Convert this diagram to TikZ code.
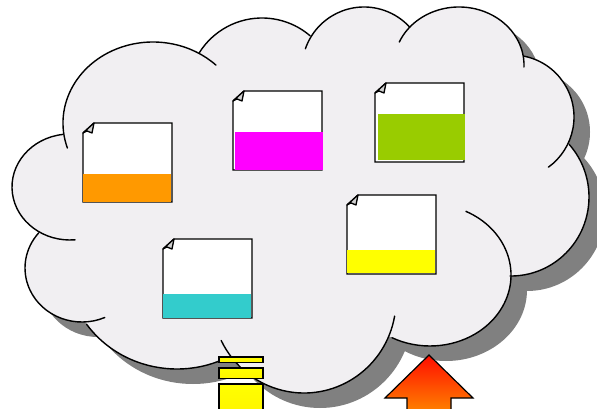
\documentclass[tikz,border=0pt]{standalone}
\definecolor{cloudfill}{HTML}{F1EFF2}
\definecolor{cloudshadow}{HTML}{808080}
\definecolor{foldgray}{HTML}{D0D0D0}
\definecolor{bandorange}{HTML}{FF9900}
\definecolor{bandmagenta}{HTML}{FF00FF}
\definecolor{bandgreen}{HTML}{99CC00}
\definecolor{bandyellow}{HTML}{FFFF00}
\definecolor{bandteal}{HTML}{33CCCC}
\tikzset{
  outline/.style={draw=black,line width=1.4pt,line cap=round,line join=round},
  docsheet/.style={draw=black,fill=white,line width=1.35pt,line join=miter},
  docfold/.style={draw=black,fill=foldgray,line width=1.3pt,line join=round},
  stackbar/.style={draw=black,line width=1.5pt,top color=bandyellow,bottom color=bandyellow!92!orange},
  uparrow/.style={draw=black,line width=1.2pt,line join=miter,top color=red!90!orange,bottom color=orange!85!yellow}
}
% one lobe outline: centre x, y, radii x, y, start and end angle
\newcommand{\lobe}[6]{\draw[outline] (#1,#2) ++(#5:#3pt and #4pt) arc[start angle=#5,end angle=#6,x radius=#3pt,y radius=#4pt];}
% the silhouette: full ellipses of all lobes and the polygon through their centres
\newcommand{\cloudbody}[1]{%
  \fill[#1] (153,123) ellipse[x radius=90pt,y radius=81pt];
  \fill[#1] (262,92) circle[radius=74pt];
  \fill[#1] (364,69) circle[radius=62pt];
  \fill[#1] (459,65) ellipse[x radius=65pt,y radius=58pt];
  \fill[#1] (512,117) circle[radius=62pt];
  \fill[#1] (511,197) ellipse[x radius=78pt,y radius=79pt];
  \fill[#1] (430,275) ellipse[x radius=81pt,y radius=71pt];
  \fill[#1] (304,300) ellipse[x radius=92pt,y radius=93pt];
  \fill[#1] (177,265) ellipse[x radius=110pt,y radius=104pt];
  \fill[#1] (82,268) ellipse[x radius=57pt,y radius=54pt];
  \fill[#1] (70,187) ellipse[x radius=58pt,y radius=53pt];
  \fill[#1] (153,123) -- (262,92) -- (364,69) -- (459,65) -- (512,117) -- (511,197) -- (430,275) -- (304,300) -- (177,265) -- (82,268) -- (70,187) -- cycle;
}
% sheet: left x, top y, band colour, band left, band top, band right, band bottom
\newcommand{\sheet}[7]{%
  \draw[docsheet] (#1,#2+10) -- (#1+11,#2) -- (#1+89,#2) -- (#1+89,#2+79) -- (#1,#2+79) -- cycle;
  \fill[#3] (#4,#5) rectangle (#6,#7);
  \draw[docfold] (#1,#2+10) -- (#1+11,#2) -- (#1+9,#2+10) -- (#1+4,#2+8) -- cycle;
}
\begin{document}
\begin{tikzpicture}[x=1pt,y=-1pt]
\useasboundingbox (0,0) rectangle (597,409);
\clip (0,0) rectangle (597,409);
\begin{scope}[shift={(16,15)}]
  \cloudbody{cloudshadow}
\end{scope}
\cloudbody{cloudfill}
\lobe{153}{123}{90}{81}{198}{45.6}
\lobe{262}{92}{74}{74}{148.2}{49.4}
\lobe{364}{69}{62}{62}{161}{42.4}
\lobe{459}{65}{65}{58}{156.7}{-2}
\lobe{512}{117}{62}{62}{78.9}{-54}
\lobe{511}{197}{78}{79}{41.9}{-90.7}
\lobe{430}{275}{81}{71}{63.7}{-118}
\lobe{304}{300}{92}{93}{-10}{-154.2}
\lobe{177}{265}{110}{104}{214.7}{293.7}
\lobe{82}{268}{57}{54}{-66.4}{-220.5}
\lobe{70}{187}{58}{53}{97}{275}
\sheet{83}{123}{bandorange}{83}{174}{171}{201.5}
\sheet{233}{91}{bandmagenta}{235}{132}{322.5}{170}
\sheet{375}{83}{bandgreen}{378}{114}{464.5}{160}
\sheet{347}{195}{bandyellow}{347}{250}{434.5}{273}
\sheet{163}{239}{bandteal}{163}{294}{250.5}{317.5}
\draw[stackbar] (219,357) rectangle (263,362.5);
\draw[stackbar] (219,368) rectangle (263,378.5);
\draw[stackbar] (219,384) rectangle (263,415);
\draw[uparrow] (429,355) -- (473,398) -- (451,398) -- (451,420) -- (407,420) -- (407,398) -- (385,398) -- cycle;
\end{tikzpicture}
\end{document}
